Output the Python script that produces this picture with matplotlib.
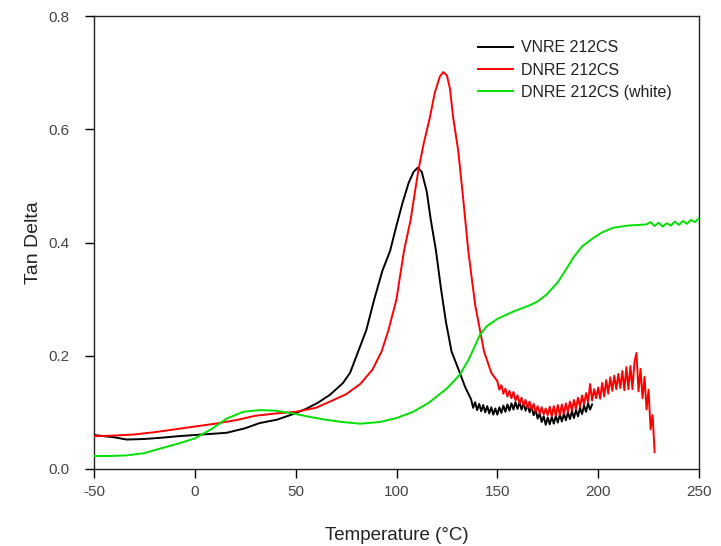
import matplotlib
matplotlib.use("Agg")
import matplotlib.pyplot as plt

plt.rcParams['font.family'] = ['Liberation Sans', 'DejaVu Sans']
plt.rcParams['axes.unicode_minus'] = False

# ---------------- data ----------------
black_x = [-50, -40, -33.8, -25, -17.3, -8, 0, 8, 15.8, 25, 32, 40.6, 48.8, 55, 61, 67, 73.5, 77, 81, 85,
           89, 93, 96.8, 100, 103, 106, 108.5, 110.5, 112.5, 115, 117, 119.6, 122, 124.5, 127.3, 131.5, 134,
           137, 138, 139, 140, 141, 142, 143, 144, 145, 146, 147, 148, 149, 150, 151, 152, 153, 154, 155, 156,
           157, 158, 159, 160, 161, 162, 163, 164, 165, 166, 167, 168, 169, 170, 171, 172, 173, 174, 175, 176,
           177, 178, 179, 180, 181, 182, 183, 184, 185, 186, 187, 188, 189, 190, 191, 192, 193, 194, 195, 196, 197]
black_y = [0.060, 0.056, 0.052, 0.053, 0.055, 0.058, 0.060, 0.062, 0.064, 0.072, 0.081, 0.087, 0.097, 0.106,
           0.117, 0.131, 0.152, 0.170, 0.2075, 0.245, 0.300, 0.350, 0.385, 0.430, 0.470, 0.505, 0.525, 0.532,
           0.525, 0.490, 0.440, 0.385, 0.320, 0.260, 0.2075, 0.169, 0.145,
           0.123, 0.108, 0.118, 0.104, 0.115, 0.102, 0.113, 0.100, 0.111, 0.098, 0.109, 0.096, 0.107, 0.096,
           0.109, 0.099, 0.112, 0.101, 0.114, 0.103, 0.116, 0.105, 0.118, 0.106, 0.118, 0.105, 0.116, 0.103,
           0.114, 0.100, 0.110, 0.095, 0.104, 0.089, 0.098, 0.083, 0.093, 0.078, 0.091, 0.079, 0.092, 0.080,
           0.094, 0.082, 0.096, 0.084, 0.098, 0.086, 0.100, 0.088, 0.102, 0.090, 0.104, 0.093, 0.108, 0.097,
           0.112, 0.101, 0.116, 0.105, 0.114]

red_x = [-50, -40, -30, -20, -10, 0, 10, 20, 30, 40, 50, 60, 67, 75, 82, 88, 92.6, 96, 100, 103.7, 107,
         110.8, 113.5, 116.5, 119, 121.5, 123.2, 125, 126.5, 128.1, 130.6, 133, 135.6, 139, 143.4, 147,
         150, 151, 152, 153, 154, 155, 156, 157, 158, 159, 160, 161, 162, 163, 164, 165, 166, 167, 168, 169,
         170, 171, 172, 173, 174, 175, 176, 177, 178, 179, 180, 181, 182, 183, 184, 185, 186, 187, 188, 189,
         190, 191, 192, 193, 194, 195, 196, 197, 198, 199, 200, 201, 202, 203, 204, 205, 206, 207, 208, 209,
         210, 211, 212, 213, 214, 215, 216, 217, 218, 219, 220, 221, 222, 223, 224, 225, 226, 227, 228]
red_y = [0.058, 0.059, 0.061, 0.065, 0.070, 0.075, 0.080, 0.086, 0.094, 0.098, 0.101, 0.108, 0.119, 0.132,
         0.150, 0.175, 0.2075, 0.245, 0.300, 0.385, 0.440, 0.527, 0.575, 0.620, 0.665, 0.693, 0.701, 0.695,
         0.672, 0.621, 0.562, 0.480, 0.385, 0.290, 0.2075, 0.170,
         0.155, 0.140, 0.148, 0.133, 0.142, 0.128, 0.138, 0.125, 0.136, 0.121, 0.130, 0.116, 0.126, 0.112,
         0.122, 0.108, 0.119, 0.105, 0.115, 0.101, 0.111, 0.098, 0.109, 0.096, 0.107, 0.095, 0.110, 0.093,
         0.111, 0.094, 0.113, 0.095, 0.114, 0.097, 0.116, 0.100, 0.119, 0.103, 0.122, 0.106, 0.126, 0.110,
         0.130, 0.114, 0.134, 0.118, 0.150, 0.121, 0.141, 0.125, 0.144, 0.124, 0.152, 0.128, 0.157, 0.133,
         0.162, 0.138, 0.165, 0.141, 0.168, 0.143, 0.173, 0.139, 0.180, 0.141, 0.182, 0.141, 0.189, 0.205,
         0.137, 0.177, 0.125, 0.163, 0.105, 0.140, 0.070, 0.095, 0.030]

green_x = [-50, -42, -33.8, -25, -17.3, -8, 0, 8, 15.8, 24, 32.3, 40, 48.8, 57, 65, 73, 82, 91.8, 100, 108.3,
           116, 124.9, 131.5, 136, 141.4, 144.7, 150, 157.9, 166, 170, 174.4, 180, 184, 187.6, 192, 197.6, 202,
           207.5, 215, 220, 224, 226, 228, 230, 232, 234, 236, 238, 240, 242, 244, 246, 248, 250]
green_y = [0.023, 0.023, 0.024, 0.028, 0.036, 0.045, 0.054, 0.070, 0.089, 0.101, 0.104, 0.103, 0.098, 0.092,
           0.087, 0.083, 0.080, 0.083, 0.090, 0.101, 0.117, 0.142, 0.167, 0.195, 0.237, 0.252, 0.265, 0.278,
           0.289, 0.296, 0.308, 0.330, 0.352, 0.373, 0.393, 0.408, 0.418, 0.426, 0.430, 0.431, 0.432, 0.436,
           0.429, 0.435, 0.428, 0.434, 0.430, 0.437, 0.431, 0.438, 0.433, 0.440, 0.436, 0.443]

series_labels = ["VNRE 212CS", "DNRE 212CS", "DNRE 212CS (white)"]
series_colors = ["#000000", "#ff0000", "#00e000"]

x_ticks = [-50, 0, 50, 100, 150, 200, 250]
y_ticks = [0.0, 0.2, 0.4, 0.6, 0.8]
y_tick_labels = ["0.0", "0.2", "0.4", "0.6", "0.8"]

# ---------------- figure ----------------
fig = plt.figure(figsize=(7.21, 5.46), dpi=100)
ax = fig.add_axes([94/721, 77/546, 605/721, 453/546])

ax.plot(black_x, black_y, color=series_colors[0], lw=1.4, label=series_labels[0], zorder=3)
ax.plot(red_x, red_y, color=series_colors[1], lw=1.4, label=series_labels[1], zorder=4)
ax.plot(green_x, green_y, color=series_colors[2], lw=1.4, label=series_labels[2], zorder=5)

ax.set_xlim(-50, 250)
ax.set_ylim(0, 0.8)
ax.set_xticks(x_ticks)
ax.set_yticks(y_ticks)
ax.set_yticklabels(y_tick_labels)
ax.tick_params(direction='out', length=6.5, width=1, labelsize=11, labelcolor='#444444',
               top=False, right=False)
ax.tick_params(axis='x', pad=5)
ax.tick_params(axis='y', pad=11)
for s in ax.spines.values():
    s.set_linewidth(1.0)
    s.set_color('#222222')

ax.set_xlabel("Temperature (°C)", fontsize=13.5, color='#222222', labelpad=20)
ax.set_ylabel("Tan Delta", fontsize=14, color='#222222', labelpad=5)

leg = ax.legend(loc='upper left', bbox_to_anchor=(0.635, 0.946), frameon=False, fontsize=11.5,
                handlelength=2.2, handletextpad=0.45, labelspacing=0.45, borderaxespad=0, borderpad=0)
for t in leg.get_texts():
    t.set_color('#222222')
for l in leg.get_lines():
    l.set_linewidth(1.4)

fig.savefig("out.png", dpi=100)
